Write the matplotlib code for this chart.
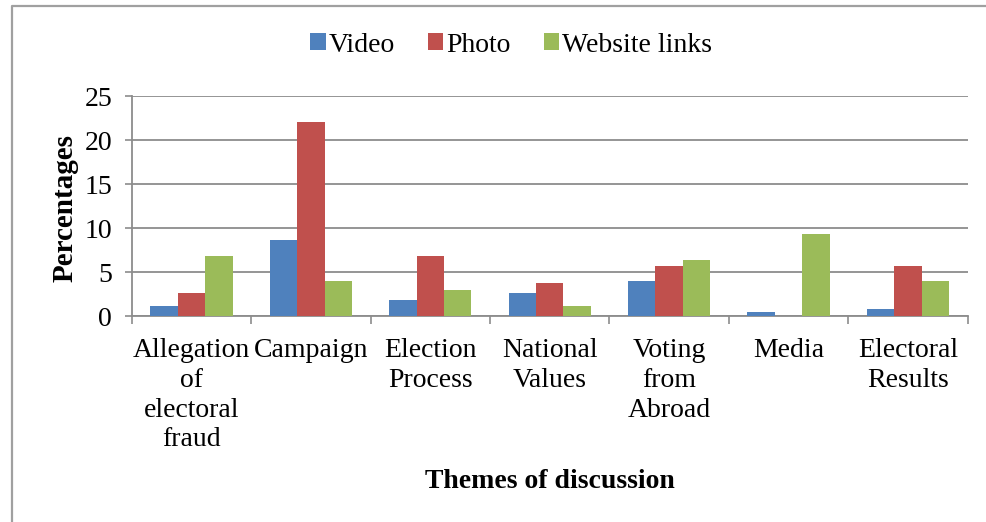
import numpy as np
import matplotlib
matplotlib.use('Agg')
import matplotlib.pyplot as plt
from matplotlib.lines import Line2D

themes = ['Allegation\nof\nelectoral\nfraud', 'Campaign', 'Election\nProcess', 'National\nValues',
          'Voting\nfrom\nAbroad', 'Media', 'Electoral\nResults']
video = [1.1, 8.6, 1.85, 2.6, 4.0, 0.4, 0.75]
photo = [2.6, 22.1, 6.8, 3.7, 5.7, 0.0, 5.7]
website_links = [6.8, 4.0, 2.95, 1.1, 6.4, 9.3, 4.0]

series = [('Video', video, '#4F81BD'),
          ('Photo', photo, '#C0504D'),
          ('Website links', website_links, '#9BBB59')]

plt.rcParams['font.family'] = ['Liberation Serif', 'DejaVu Serif']

fig = plt.figure(figsize=(9.87, 5.22), dpi=100)
ax = fig.add_axes([0.1334, 0.3946, 0.8471, 0.4214])

# chart frame: only the left and top edges fall inside the image
fig.lines.append(Line2D([0.0117, 0.0117, 1.0], [0.0, 0.9885, 0.9885], transform=fig.transFigure,
                        color='#A0A0A0', linewidth=1.6))

x = np.arange(len(themes))
w = 0.23
for i, (name, vals, col) in enumerate(series):
    ax.bar(x + (i - 1) * w, vals, width=w, color=col, label=name, zorder=3)

ax.set_xlim(-0.5, len(themes) - 0.5)
ax.set_ylim(0, 25)
ax.set_yticks(range(0, 26, 5))
ax.yaxis.grid(True, color='#8C8C8C', linewidth=1.3, zorder=0)

for s in ['top', 'right']:
    ax.spines[s].set_visible(False)
for s in ['left', 'bottom']:
    ax.spines[s].set_color('#8C8C8C')
    ax.spines[s].set_linewidth(1.3)

# category labels centred, ticks on the group boundaries
ax.set_xticks(x)
ax.set_xticklabels(themes, fontsize=20, linespacing=1.25)
ax.tick_params(axis='x', length=0, pad=16)
ax.set_xticks(np.arange(-0.5, len(themes)), minor=True)
ax.tick_params(axis='x', which='minor', length=6, color='#8C8C8C', width=1.2)
ax.tick_params(axis='y', labelsize=20, length=5, color='#8C8C8C', width=1.2, pad=9)

ax.set_ylabel('Percentages', fontsize=21, fontweight='bold')
ax.yaxis.set_label_coords(-0.063, 0.49)
ax.set_xlabel('Themes of discussion', fontsize=20, fontweight='bold')
ax.xaxis.set_label_coords(0.5, -0.695)

ax.legend(loc='center', bbox_to_anchor=(511 / 987, 1 - 45 / 522), bbox_transform=fig.transFigure,
          ncol=3, frameon=False, fontsize=20, handlelength=0.55, handleheight=0.55,
          handletextpad=0.1, columnspacing=1.2)

fig.savefig('out.png', dpi=100)
